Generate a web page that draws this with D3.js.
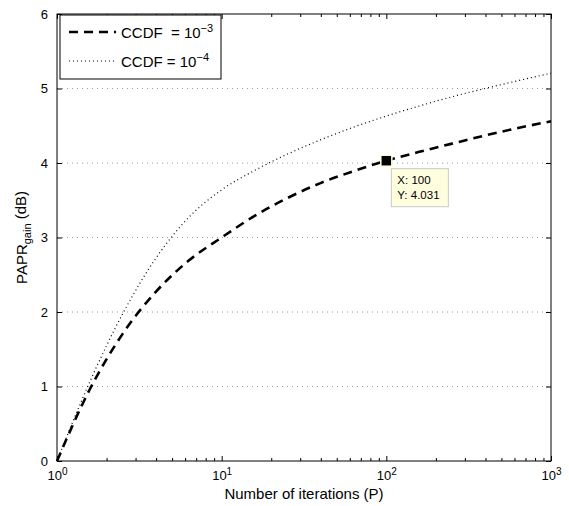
<!DOCTYPE html>
<html>
<head>
    <title>PAPR gain vs number of iterations</title>
    <style>
        body { margin: 0; background: #fff; }
        text { font-family: "Liberation Sans", Arial, Helvetica, sans-serif; fill: #000; }
        .tick text { font-size: 13px; }
        .axis path { display: none; }
        .axis line { stroke: #000; }
        .grid { stroke: #9a9a9a; stroke-dasharray: 1,4; stroke-width: 1; }
    </style>
</head>
<body>
    <svg id="chart" width="569" height="506"></svg>

    <script src="https://d3js.org/d3.v7.min.js"></script>
    <script>
        // Number of iterations P and PAPR gain (dB)
        const iterations = [1, 1.58, 2.51, 3.98, 6.31, 10, 15.85, 25.12, 39.81, 63.1, 100, 158.5, 251.2, 398.1, 631, 1000];
        const gainCcdf3 = [0, 0.96, 1.71, 2.27, 2.69, 3.0, 3.29, 3.53, 3.73, 3.89, 4.031, 4.15, 4.26, 4.37, 4.47, 4.56];
        const gainCcdf4 = [0, 1.06, 1.98, 2.72, 3.27, 3.64, 3.9, 4.12, 4.31, 4.48, 4.63, 4.765, 4.89, 5.0, 5.105, 5.205];
        const xTickExps = [0, 1, 2, 3];
        const yTicks = [0, 1, 2, 3, 4, 5, 6];
        const legendLabels = [["CCDF  = 10", "\u22123"], ["CCDF = 10", "\u22124"]];
        const tipPoint = { x: 100, y: 4.031 };

        const svg = d3.select('#chart'),
            margin = { top: 14, right: 18, bottom: 45, left: 57 },
            width = +svg.attr('width') - margin.left - margin.right,
            height = +svg.attr('height') - margin.top - margin.bottom;

        const x = d3.scaleLog().domain([1, 1000]).range([0, width]),
            y = d3.scaleLinear().domain([0, 6]).range([height, 0]);

        const g = svg.append('g')
            .attr('transform', `translate(${margin.left},${margin.top})`);

        // horizontal dotted grid
        g.selectAll('.grid')
            .data(yTicks.filter(d => d > 0 && d < 6))
            .enter().append('line')
            .attr('class', 'grid')
            .attr('x1', 0).attr('x2', width)
            .attr('y1', d => y(d)).attr('y2', d => y(d));

        const majorX = xTickExps.map(e => Math.pow(10, e));
        const minorX = [];
        xTickExps.slice(0, -1).forEach(e => {
            for (let k = 2; k <= 9; k++) minorX.push(k * Math.pow(10, e));
        });

        // bottom axis with labels
        const xAxis = g.append('g')
            .attr('class', 'axis')
            .attr('transform', `translate(0,${height})`)
            .call(d3.axisBottom(x).tickValues(majorX).tickSize(-5).tickPadding(10).tickFormat(() => ''));
        xAxis.selectAll('.tick text').each(function(d) {
            const t = d3.select(this);
            t.append('tspan').text('10');
            t.append('tspan').attr('dy', '-0.5em').style('font-size', '10px').text(Math.round(Math.log10(d)));
        });
        g.append('g')
            .attr('class', 'axis')
            .attr('transform', `translate(0,${height})`)
            .call(d3.axisBottom(x).tickValues(minorX).tickSize(-3).tickFormat(() => ''));

        // top axis ticks
        g.append('g')
            .attr('class', 'axis')
            .call(d3.axisTop(x).tickValues(majorX).tickSize(-5).tickFormat(() => ''));
        g.append('g')
            .attr('class', 'axis')
            .call(d3.axisTop(x).tickValues(minorX).tickSize(-3).tickFormat(() => ''));

        // left and right axes
        g.append('g')
            .attr('class', 'axis')
            .call(d3.axisLeft(y).tickValues(yTicks).tickSize(-5).tickPadding(9).tickFormat(d3.format('d')));
        g.append('g')
            .attr('class', 'axis')
            .attr('transform', `translate(${width},0)`)
            .call(d3.axisRight(y).tickValues(yTicks).tickSize(-5).tickFormat(() => ''));

        // box
        g.append('rect')
            .attr('width', width).attr('height', height)
            .attr('fill', 'none').attr('stroke', '#000').attr('stroke-width', 1);

        const line = d3.line()
            .x(d => x(d[0]))
            .y(d => y(d[1]))
            .curve(d3.curveMonotoneX);

        g.append('path')
            .datum(iterations.map((p, i) => [p, gainCcdf4[i]]))
            .attr('d', line)
            .attr('fill', 'none').attr('stroke', '#000')
            .attr('stroke-width', 1.2).attr('stroke-dasharray', '1,3');

        g.append('path')
            .datum(iterations.map((p, i) => [p, gainCcdf3[i]]))
            .attr('d', line)
            .attr('fill', 'none').attr('stroke', '#000')
            .attr('stroke-width', 2.6).attr('stroke-dasharray', '9,6');

        // data tip
        const tx = x(tipPoint.x), ty = y(tipPoint.y);
        g.append('rect')
            .attr('x', tx - 5.5).attr('y', ty - 5.5)
            .attr('width', 11).attr('height', 11)
            .attr('fill', '#000').attr('stroke', '#ffffe0').attr('stroke-width', 1.5);
        const tip = g.append('g').attr('transform', `translate(${tx + 5},${ty + 8})`);
        tip.append('rect')
            .attr('width', 57).attr('height', 38)
            .attr('fill', '#ffffe0').attr('stroke', '#c8c8c8');
        tip.append('text').attr('x', 6).attr('y', 15).style('font-size', '11.5px').text('X: ' + tipPoint.x);
        tip.append('text').attr('x', 6).attr('y', 30).style('font-size', '11.5px').text('Y: ' + tipPoint.y);

        // axis labels
        svg.append('text')
            .attr('x', margin.left + width / 2).attr('y', 499)
            .attr('text-anchor', 'middle').style('font-size', '15px')
            .text('Number of iterations (P)');
        const yl = svg.append('text')
            .attr('transform', `translate(27,${margin.top + height / 2}) rotate(-90)`)
            .attr('text-anchor', 'middle').style('font-size', '15px');
        yl.append('tspan').text('PAPR');
        yl.append('tspan').attr('dy', '0.35em').style('font-size', '11px').text('gain');
        yl.append('tspan').attr('dy', '-0.35em').text(' (dB)');

        // legend
        const legend = g.append('g').attr('transform', 'translate(3,1)');
        legend.append('rect')
            .attr('width', 161).attr('height', 64)
            .attr('fill', '#fff').attr('stroke', '#000');
        const styles = [{ w: 2.6, dash: '9,6' }, { w: 1.2, dash: '1,3' }];
        legendLabels.forEach((lab, i) => {
            const ly = 17 + i * 29;
            legend.append('line')
                .attr('x1', 9).attr('x2', 56).attr('y1', ly).attr('y2', ly)
                .attr('stroke', '#000').attr('stroke-width', styles[i].w)
                .attr('stroke-dasharray', styles[i].dash);
            const t = legend.append('text').attr('x', 61).attr('y', ly + 6)
                .style('font-size', '15px').style('white-space', 'pre');
            t.append('tspan').text(lab[0]);
            t.append('tspan').attr('dy', '-0.55em').style('font-size', '11px').text(lab[1]);
        });
    </script>
</body>
</html>
